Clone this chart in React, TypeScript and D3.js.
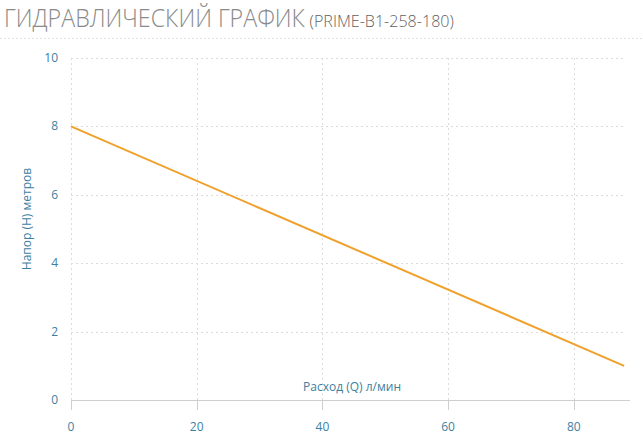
import React from "react";
import * as d3 from "d3";

const flowQ = [0, 88];
const headH = [8, 1];
const xTicks = [0, 20, 40, 60, 80];
const yTicks = [0, 2, 4, 6, 8, 10];
const title = "ГИДРАВЛИЧЕСКИЙ ГРАФИК";
const model = "(PRIME-B1-258-180)";
const xLabel = "Расход (Q) л/мин";
const yLabel = "Напор (H) метров";

export default function App() {
  const W = 643, H = 434;
  const x = d3.scaleLinear().domain([0, 88.3]).range([71, 626]);
  const y = d3.scaleLinear().domain([0, 10]).range([400, 58]);
  const pts = flowQ.map((q, i) => [q, headH[i]] as [number, number]);
  const line = d3.line<[number, number]>().x(d => x(d[0])).y(d => y(d[1]));
  const tickColor = "#3d7f9f";
  const font = "'Open Sans', sans-serif";
  return (
    <svg width={W} height={H} style={{ position: "absolute", left: 0, top: 0, background: "#fff" }}>
      <g transform="translate(4,27) scale(0.93,1)">
        <text x={0} y={0} fontFamily={font} fontSize={25} fontWeight={300} fill="#8a8a8a">
          {title}
          <tspan dx={5} fontSize={17.3} fill="#5f5f5f">{model}</tspan>
        </text>
      </g>
      <line x1={0} x2={W} y1={38.5} y2={38.5} stroke="#e3e3e3" strokeDasharray="2,2" />
      {yTicks.filter(t => t > 0).map(t => (
        <line key={"gy" + t} x1={71} x2={625} y1={Math.round(y(t)) + 0.5} y2={Math.round(y(t)) + 0.5}
          stroke="#dcdcdc" strokeDasharray="2,3" />
      ))}
      {xTicks.map(t => (
        <line key={"gx" + t} x1={Math.round(x(t)) + 0.5} x2={Math.round(x(t)) + 0.5} y1={58} y2={400}
          stroke="#dcdcdc" strokeDasharray="2,3" />
      ))}
      <line x1={71} x2={630} y1={400.5} y2={400.5} stroke="#cfcfcf" />
      {xTicks.map(t => (
        <line key={"tx" + t} x1={Math.round(x(t)) + 0.5} x2={Math.round(x(t)) + 0.5} y1={400} y2={410} stroke="#cfcfcf" />
      ))}
      {xTicks.map(t => (
        <text key={"lx" + t} x={x(t)} y={431} textAnchor="middle" fontFamily={font} fontSize={12} fill={tickColor}>{t}</text>
      ))}
      {yTicks.map(t => (
        <text key={"ly" + t} x={58} y={y(t) + 4} textAnchor="end" fontFamily={font} fontSize={12} fill={tickColor}>{t}</text>
      ))}
      <text x={352} y={391} textAnchor="middle" fontFamily={font} fontSize={12} fill={tickColor}>{xLabel}</text>
      <text transform={`translate(31,219) rotate(-90)`} textAnchor="middle" fontFamily={font} fontSize={12} fill={tickColor}>{yLabel}</text>
      <path d={line(pts) || ""} fill="none" stroke="#efa12b" strokeWidth={2} />
    </svg>
  );
}
